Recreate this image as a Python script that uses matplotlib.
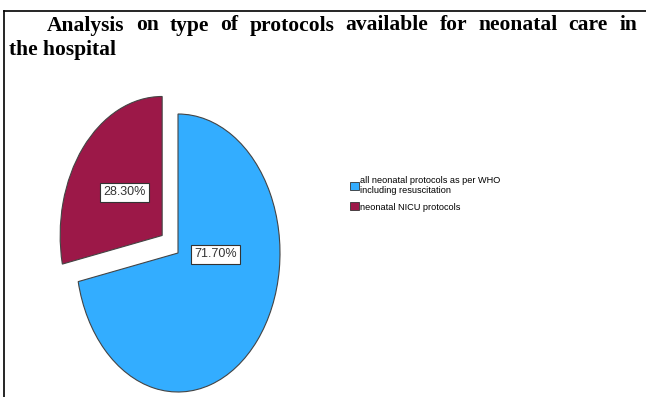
import matplotlib
matplotlib.use("Agg")
import matplotlib.pyplot as plt
from matplotlib.lines import Line2D
from matplotlib.patches import Patch
from matplotlib import font_manager

# Data
labels = ["all neonatal protocols as per WHO\nincluding resuscitation", "neonatal NICU protocols"]
values = [71.7, 28.3]
colors = ["#33ADFF", "#9C1848"]
title_line1 = "Analysis on type of protocols available for neonatal care in"
title_line2 = "the hospital"

W, H = 646, 397
fig = plt.figure(figsize=(W / 100, H / 100), dpi=100)

installed = {f.name for f in font_manager.fontManager.ttflist}
narrow = [f for f in ["Liberation Sans Narrow", "Liberation Sans", "DejaVu Sans"] if f in installed]

# pie geometry in pixels (ellipse, stretched vertically)
cx, cy = 178, H - 253
rx, ry = 102, 139
xl = (-1.3, 1.3)
yl = (-1.03, 1.5)
ax_w = (xl[1] - xl[0]) * rx
ax_h = (yl[1] - yl[0]) * ry
ax = fig.add_axes([(cx + xl[0] * rx) / W, (cy + yl[0] * ry) / H, ax_w / W, ax_h / H])

wedges, texts, autotexts = ax.pie(
    values, colors=colors, startangle=90, counterclock=False,
    explode=[0, 0.2], autopct="%.2f%%",
    wedgeprops=dict(edgecolor="#444444", linewidth=0.8),
    textprops=dict(fontsize=9, color="#333333", family=narrow),
)
ax.set_aspect("auto")
ax.set_xlim(*xl)
ax.set_ylim(*yl)
ax.axis("off")

# label boxes relative to each wedge's vertex
offsets = [(0.37, -0.01), (-0.37, 0.31)]
for w, t, (dx, dy) in zip(wedges, autotexts, offsets):
    x0, y0 = w.center
    t.set_position((x0 + dx, y0 + dy))
    t.set_ha("center")
    t.set_va("center")
    t.set_bbox(dict(boxstyle="square,pad=0.25", fc="white", ec="#333333", lw=0.8))

# legend
handles = [Patch(facecolor=c, edgecolor="#333333", linewidth=0.6) for c in colors]
fig.legend(handles, labels, loc="upper left", bbox_to_anchor=(350 / W, 1 - 176 / H),
           frameon=False, prop=dict(family=narrow, size=6.6),
           handlelength=0.95, handleheight=1.0, handletextpad=0.1,
           labelspacing=0.75, borderpad=0, borderaxespad=0)

# frame lines
fig.add_artist(Line2D([3.5 / W, 1], [1 - 10.5 / H] * 2, color="black", lw=1.2,
                      transform=fig.transFigure))
fig.add_artist(Line2D([3.5 / W] * 2, [0, 1 - 10.5 / H], color="black", lw=1.2,
                      transform=fig.transFigure))

# justified title
tfont = dict(family=["Liberation Serif", "DejaVu Serif"], weight="bold", size=15.5)
renderer = fig.canvas.get_renderer()
words = title_line1.split()
arts = [fig.text(0, 1 - 30.5 / H, wd, ha="left", va="baseline", **tfont) for wd in words]
widths = [a.get_window_extent(renderer).width for a in arts]
left, right = 47, 637
gap = (right - left - sum(widths)) / (len(words) - 1)
x = left
for a, wdt in zip(arts, widths):
    a.set_x(x / W)
    x += wdt + gap
fig.text(9 / W, 1 - 55.5 / H, title_line2, ha="left", va="baseline", **tfont)

fig.savefig("out.png", dpi=100)
